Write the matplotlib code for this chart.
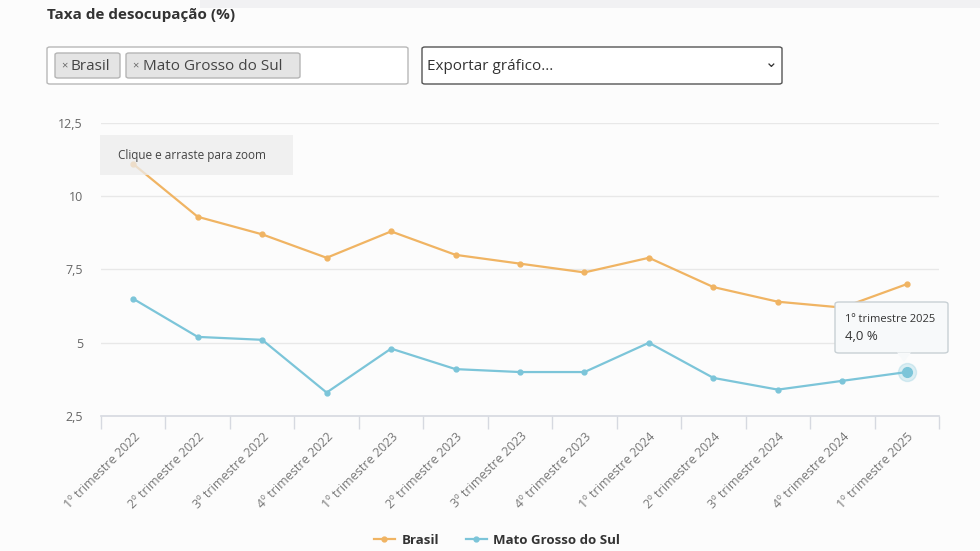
import matplotlib.pyplot as plt
import matplotlib.patches as mpatches
from matplotlib.lines import Line2D
import numpy as np

plt.rcParams['font.family'] = ['Open Sans', 'DejaVu Sans']

# Dados: taxa de desocupação (%)
trimestres = ['1º trimestre 2022', '2º trimestre 2022', '3º trimestre 2022', '4º trimestre 2022',
              '1º trimestre 2023', '2º trimestre 2023', '3º trimestre 2023', '4º trimestre 2023',
              '1º trimestre 2024', '2º trimestre 2024', '3º trimestre 2024', '4º trimestre 2024',
              '1º trimestre 2025']
brasil = [11.1, 9.3, 8.7, 7.9, 8.8, 8.0, 7.7, 7.4, 7.9, 6.9, 6.4, 6.2, 7.0]
mato_grosso_sul = [6.5, 5.2, 5.1, 3.3, 4.8, 4.1, 4.0, 4.0, 5.0, 3.8, 3.4, 3.7, 4.0]
y_ticks = [2.5, 5, 7.5, 10, 12.5]
y_labels = ['2,5', '5', '7,5', '10', '12,5']

cor_brasil = '#f0b463'
cor_ms = '#7cc5d9'
W, H = 980, 551

fig = plt.figure(figsize=(9.8, 5.51), dpi=100)
fig.patch.set_facecolor('#fcfcfc')

# faixa cinza no topo
fig.patches.append(mpatches.Rectangle((200 / W, 1 - 8 / H), 1, 8 / H, transform=fig.transFigure,
                                      facecolor='#f1f1f3', edgecolor='none', zorder=0))

fig.text(47 / W, 1 - 15 / H, 'Taxa de desocupação (%)', fontsize=11, fontweight='bold',
         color='#333333', va='center')

def caixa(x0, y0, x1, y1, fc, ec, lw=1.0):
    fig.patches.append(mpatches.FancyBboxPatch((x0 / W, 1 - y1 / H), (x1 - x0) / W, (y1 - y0) / H,
                                               boxstyle='round,pad=0,rounding_size=0.003',
                                               transform=fig.transFigure, facecolor=fc,
                                               edgecolor=ec, linewidth=lw, zorder=1))

# seletores
caixa(47, 47, 408, 84, 'white', '#b8b8b8')
caixa(55, 53, 120, 78, '#e4e4e4', '#b5b5b5')
caixa(126, 53, 300, 78, '#e4e4e4', '#b5b5b5')
fig.text(61 / W, 1 - 66 / H, '×', fontsize=8, color='#666666', va='center')
fig.text(71 / W, 1 - 66 / H, 'Brasil', fontsize=11, color='#444444', va='center')
fig.text(132 / W, 1 - 66 / H, '×', fontsize=8, color='#666666', va='center')
fig.text(143 / W, 1 - 66 / H, 'Mato Grosso do Sul', fontsize=11, color='#444444', va='center')
caixa(422, 47, 782, 84, 'white', '#555555')
fig.text(427 / W, 1 - 66 / H, 'Exportar gráfico...', fontsize=11, color='#333333', va='center')
fig.text(771 / W, 1 - 64 / H, '⌄', fontsize=11, color='#333333', va='center', ha='center')

# área do gráfico
ax = fig.add_axes([101 / W, (H - 416) / H, (939 - 101) / W, (416 - 123) / H])
ax.set_facecolor('none')
x = np.arange(len(trimestres))
ax.plot(x, brasil, color=cor_brasil, lw=1.6, marker='o', ms=3.5, zorder=3)
ax.plot(x, mato_grosso_sul, color=cor_ms, lw=1.6, marker='o', ms=3.5, zorder=3)
ax.plot(x[-1], mato_grosso_sul[-1], 'o', ms=13, color=cor_ms, alpha=0.25, zorder=4)
ax.plot(x[-1], mato_grosso_sul[-1], 'o', ms=7, color=cor_ms, zorder=5)

ax.set_xlim(-0.5, len(trimestres) - 0.5)
ax.set_ylim(2.5, 12.5)
ax.set_yticks(y_ticks)
ax.set_yticklabels(y_labels)
ax.grid(axis='y', color='#e8e8e8', lw=1)
ax.set_axisbelow(True)
for s in ['top', 'right', 'left']:
    ax.spines[s].set_visible(False)
ax.spines['bottom'].set_color('#d6d9e0')
ax.spines['bottom'].set_linewidth(1.2)
ax.tick_params(axis='y', length=0, labelsize=9, labelcolor='#666666', pad=13)

ax.set_xticks(np.arange(len(trimestres) + 1) - 0.5, minor=True)
ax.tick_params(axis='x', which='minor', length=9, color='#d6d9e0', width=1)
ax.set_xticks(x)
ax.set_xticklabels(trimestres, rotation=45, ha='right', rotation_mode='anchor',
                   fontsize=9, color='#777777')
ax.tick_params(axis='x', which='major', length=0, pad=10)

# caixa de zoom (semitransparente)
fig.patches.append(mpatches.Rectangle((100 / W, 1 - 175 / H), 193 / W, 40 / H,
                                      transform=fig.transFigure, facecolor='#ececec',
                                      edgecolor='none', alpha=0.75, zorder=6))
fig.text(118 / W, 1 - 155 / H, 'Clique e arraste para zoom', fontsize=8.5, color='#444444',
         va='center', zorder=7)

# tooltip
fig.patches.append(mpatches.FancyBboxPatch((835 / W, 1 - 353 / H), 113 / W, 51 / H,
                                           boxstyle='round,pad=0,rounding_size=0.004',
                                           transform=fig.transFigure, facecolor='#f7f9fa',
                                           edgecolor='#c8d0d4', linewidth=1, zorder=7))
fig.patches.append(mpatches.Polygon([(897 / W, 1 - 352.5 / H), (911 / W, 1 - 352.5 / H),
                                     (904 / W, 1 - 362 / H)], closed=True,
                                    transform=fig.transFigure, facecolor='#f7f9fa',
                                    edgecolor='none', zorder=8))
fig.text(845 / W, 1 - 320 / H, '1º trimestre 2025', fontsize=8, color='#333333',
         va='center', zorder=9)
fig.text(845 / W, 1 - 337 / H, '4,0 %', fontsize=9.5, color='#333333', va='center', zorder=9)

# legenda
handles = [Line2D([], [], color=cor_brasil, lw=1.6, marker='o', ms=3.5),
           Line2D([], [], color=cor_ms, lw=1.6, marker='o', ms=3.5)]
leg = fig.legend(handles, ['Brasil', 'Mato Grosso do Sul'], loc='center',
                 bbox_to_anchor=(497 / W, 1 - 540 / H), ncol=2, frameon=False,
                 handlelength=1.6, columnspacing=2.0, handletextpad=0.5,
                 prop={'weight': 'bold', 'size': 9.5})
for t in leg.get_texts():
    t.set_color('#333333')

fig.savefig('out.png', dpi=100, facecolor=fig.get_facecolor())
